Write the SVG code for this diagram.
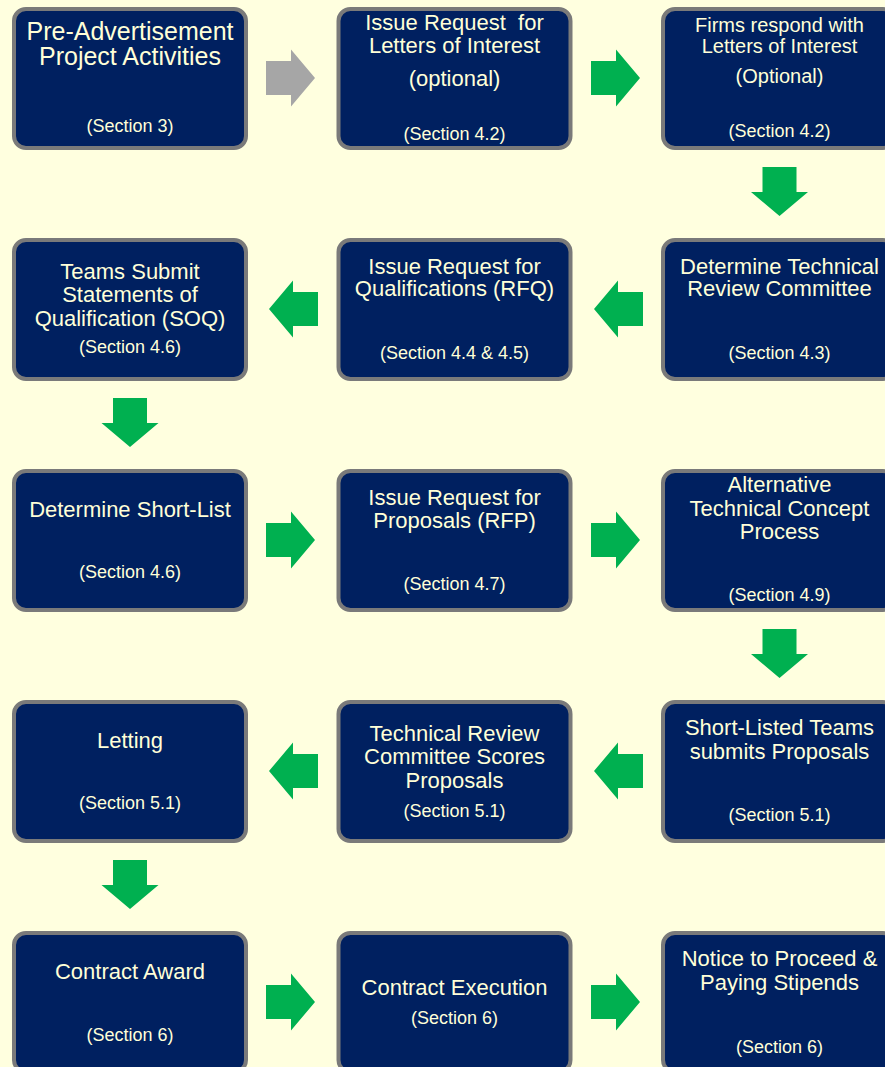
<svg xmlns="http://www.w3.org/2000/svg" width="885" height="1067" viewBox="0 0 885 1067">
<style>
.bg{fill:#FFFFDF}
.box{fill:#002060;stroke:#7A7A7A;stroke-width:4}
text{font-family:"Liberation Sans",Arial,sans-serif;fill:#FFFFD8;text-anchor:middle}
.t22{font-size:22px}
.t20{font-size:20px}
.t25{font-size:25px}
.s{font-size:18px}
.g{fill:#00B050}
.gr{fill:#A6A6A6}
</style>
<defs>
<path id="ar" d="M0,-17 H25 V-28.5 L49,0 L25,28.5 V17 H0 Z"/>
</defs>
<rect class="bg" x="0" y="0" width="885" height="1067"/>

<g id="n1">
<rect class="box" x="14" y="9" width="232" height="139" rx="12"/>
<text class="t25" x="130" y="40">Pre-Advertisement</text>
<text class="t25" x="130" y="65">Project Activities</text>
<text class="s" x="130" y="132">(Section 3)</text>
</g>
<g id="n2">
<rect class="box" x="338.5" y="9" width="232" height="139" rx="12"/>
<text class="t22" x="454.5" y="30" xml:space="preserve">Issue Request  for</text>
<text class="t22" x="454.5" y="53">Letters of Interest</text>
<text class="t22" x="454.5" y="86">(optional)</text>
<text class="s" x="454.5" y="140">(Section 4.2)</text>
</g>
<g id="n3">
<rect class="box" x="663" y="9" width="232" height="139" rx="12"/>
<text class="t20" x="779.5" y="32">Firms respond with</text>
<text class="t20" x="779.5" y="53">Letters of Interest</text>
<text class="t20" x="779.5" y="83">(Optional)</text>
<text class="s" x="779.5" y="137">(Section 4.2)</text>
</g>

<g id="n4">
<rect class="box" x="663" y="240" width="232" height="139" rx="12"/>
<text class="t22" x="779.5" y="274">Determine Technical</text>
<text class="t22" x="779.5" y="296">Review Committee</text>
<text class="s" x="779.5" y="359">(Section 4.3)</text>
</g>
<g id="n5">
<rect class="box" x="338.5" y="240" width="232" height="139" rx="12"/>
<text class="t22" x="454.5" y="274">Issue Request for</text>
<text class="t22" x="454.5" y="296">Qualifications (RFQ)</text>
<text class="s" x="454.5" y="359">(Section 4.4 &amp; 4.5)</text>
</g>
<g id="n6">
<rect class="box" x="14" y="240" width="232" height="139" rx="12"/>
<text class="t22" x="130" y="279">Teams Submit</text>
<text class="t22" x="130" y="302">Statements of</text>
<text class="t22" x="130" y="326">Qualification (SOQ)</text>
<text class="s" x="130" y="353">(Section 4.6)</text>
</g>

<g id="n7">
<rect class="box" x="14" y="471" width="232" height="139" rx="12"/>
<text class="t22" x="130" y="517">Determine Short-List</text>
<text class="s" x="130" y="578">(Section 4.6)</text>
</g>
<g id="n8">
<rect class="box" x="338.5" y="471" width="232" height="139" rx="12"/>
<text class="t22" x="454.5" y="505">Issue Request for</text>
<text class="t22" x="454.5" y="528">Proposals (RFP)</text>
<text class="s" x="454.5" y="590">(Section 4.7)</text>
</g>
<g id="n9">
<rect class="box" x="663" y="471" width="232" height="139" rx="12"/>
<text class="t22" x="779.5" y="492">Alternative</text>
<text class="t22" x="779.5" y="516">Technical Concept</text>
<text class="t22" x="779.5" y="539">Process</text>
<text class="s" x="779.5" y="601">(Section 4.9)</text>
</g>

<g id="n10">
<rect class="box" x="663" y="702" width="232" height="139" rx="12"/>
<text class="t22" x="779.5" y="735">Short-Listed Teams</text>
<text class="t22" x="779.5" y="759">submits Proposals</text>
<text class="s" x="779.5" y="821">(Section 5.1)</text>
</g>
<g id="n11">
<rect class="box" x="338.5" y="702" width="232" height="139" rx="12"/>
<text class="t22" x="454.5" y="741">Technical Review</text>
<text class="t22" x="454.5" y="764">Committee Scores</text>
<text class="t22" x="454.5" y="788">Proposals</text>
<text class="s" x="454.5" y="817">(Section 5.1)</text>
</g>
<g id="n12">
<rect class="box" x="14" y="702" width="232" height="139" rx="12"/>
<text class="t22" x="130" y="748">Letting</text>
<text class="s" x="130" y="809">(Section 5.1)</text>
</g>

<g id="n13">
<rect class="box" x="14" y="933" width="232" height="139" rx="12"/>
<text class="t22" x="130" y="979">Contract Award</text>
<text class="s" x="130" y="1041">(Section 6)</text>
</g>
<g id="n14">
<rect class="box" x="338.5" y="933" width="232" height="139" rx="12"/>
<text class="t22" x="454.5" y="995">Contract Execution</text>
<text class="s" x="454.5" y="1024">(Section 6)</text>
</g>
<g id="n15">
<rect class="box" x="663" y="933" width="232" height="139" rx="12"/>
<text class="t22" x="779.5" y="966">Notice to Proceed &amp;</text>
<text class="t22" x="779.5" y="990">Paying Stipends</text>
<text class="s" x="779.5" y="1053">(Section 6)</text>
</g>

<g id="connectors">
<use href="#ar" class="gr" transform="translate(266,78)"/>
<use href="#ar" class="g" transform="translate(591,78)"/>
<use href="#ar" class="g" transform="translate(779.5,167) rotate(90)"/>
<use href="#ar" class="g" transform="translate(643,309) scale(-1,1)"/>
<use href="#ar" class="g" transform="translate(318,309) scale(-1,1)"/>
<use href="#ar" class="g" transform="translate(130,398) rotate(90)"/>
<use href="#ar" class="g" transform="translate(266,540)"/>
<use href="#ar" class="g" transform="translate(591,540)"/>
<use href="#ar" class="g" transform="translate(779.5,629) rotate(90)"/>
<use href="#ar" class="g" transform="translate(643,771) scale(-1,1)"/>
<use href="#ar" class="g" transform="translate(318,771) scale(-1,1)"/>
<use href="#ar" class="g" transform="translate(130,860) rotate(90)"/>
<use href="#ar" class="g" transform="translate(266,1002)"/>
<use href="#ar" class="g" transform="translate(591,1002)"/>
</g>
</svg>
